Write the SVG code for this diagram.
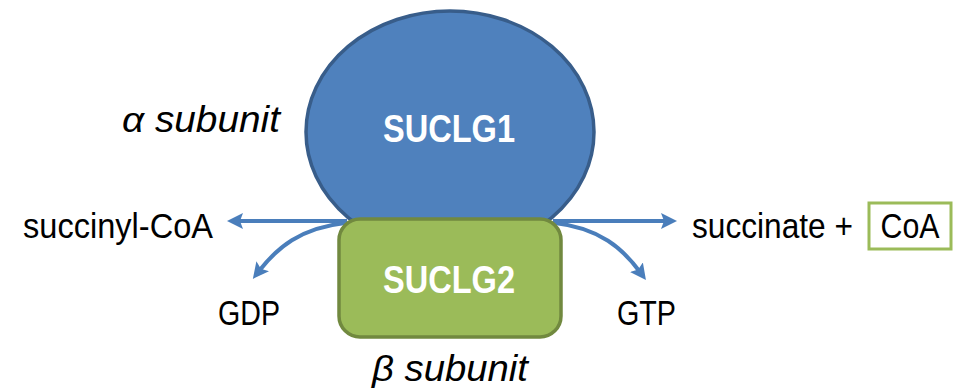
<svg xmlns="http://www.w3.org/2000/svg" width="958" height="389" viewBox="0 0 958 389">
  <defs>
    <style>
      .lbl { font-family: "Liberation Sans", Arial, sans-serif; font-size: 35.5px; fill: #000; }
      .it { font-family: "Liberation Sans", Arial, sans-serif; font-size: 36px; font-style: italic; fill: #000; }
      .nodeTxt { font-family: "Liberation Sans", Arial, sans-serif; font-size: 38.5px; font-weight: bold; fill: #fff; }
      .conn { fill: none; stroke: #4A7EBB; stroke-width: 4; marker-end: url(#arr); }
    </style>
    <marker id="arr" markerUnits="userSpaceOnUse" markerWidth="16" markerHeight="16" refX="6" refY="8" orient="auto" viewBox="0 0 16 16">
      <path d="M0,0 L16,8 L0,16 L3,8 z" fill="#4A7EBB"/>
    </marker>
  </defs>
  <rect width="958" height="389" fill="#fff"/>

  <g id="connectors">
    <path class="conn" d="M 347 221 L 237 221"/>
    <path class="conn" d="M 553 221 L 667 221"/>
    <path class="conn" d="M 345 223 C 300 228 277 248 259 271"/>
    <path class="conn" d="M 555 223 C 600 228 623 249 640 272"/>
  </g>

  <g id="suclg1">
    <ellipse cx="450" cy="132" rx="144" ry="121" fill="#4F81BD" stroke="#385D8A" stroke-width="3.5"/>
    <text class="nodeTxt" x="449" y="142" text-anchor="middle" textLength="132" lengthAdjust="spacingAndGlyphs">SUCLG1</text>
  </g>

  <g id="suclg2">
    <rect x="339" y="219" width="222" height="118" rx="21" ry="21" fill="#9BBB59" stroke="#71893F" stroke-width="3.5"/>
    <text class="nodeTxt" x="449" y="293" text-anchor="middle" textLength="132" lengthAdjust="spacingAndGlyphs">SUCLG2</text>
  </g>

  <g id="alpha-label">
    <text class="it" x="122" y="132" textLength="158" lengthAdjust="spacingAndGlyphs">α subunit</text>
  </g>
  <g id="beta-label">
    <text class="it" x="372" y="381" textLength="156" lengthAdjust="spacingAndGlyphs">β subunit</text>
  </g>

  <g id="succinyl-coa">
    <text class="lbl" x="23" y="238" textLength="190" lengthAdjust="spacingAndGlyphs">succinyl-CoA</text>
  </g>
  <g id="succinate">
    <text class="lbl" x="692" y="238" textLength="161" lengthAdjust="spacingAndGlyphs">succinate +</text>
  </g>
  <g id="coa">
    <rect x="869" y="203" width="82" height="46" fill="#fff" stroke="#9BBB59" stroke-width="3"/>
    <text class="lbl" x="910" y="238" text-anchor="middle" textLength="59" lengthAdjust="spacingAndGlyphs">CoA</text>
  </g>
  <g id="gdp">
    <text class="lbl" x="218" y="325" textLength="62" lengthAdjust="spacingAndGlyphs">GDP</text>
  </g>
  <g id="gtp">
    <text class="lbl" x="617" y="325" textLength="59" lengthAdjust="spacingAndGlyphs">GTP</text>
  </g>
</svg>
